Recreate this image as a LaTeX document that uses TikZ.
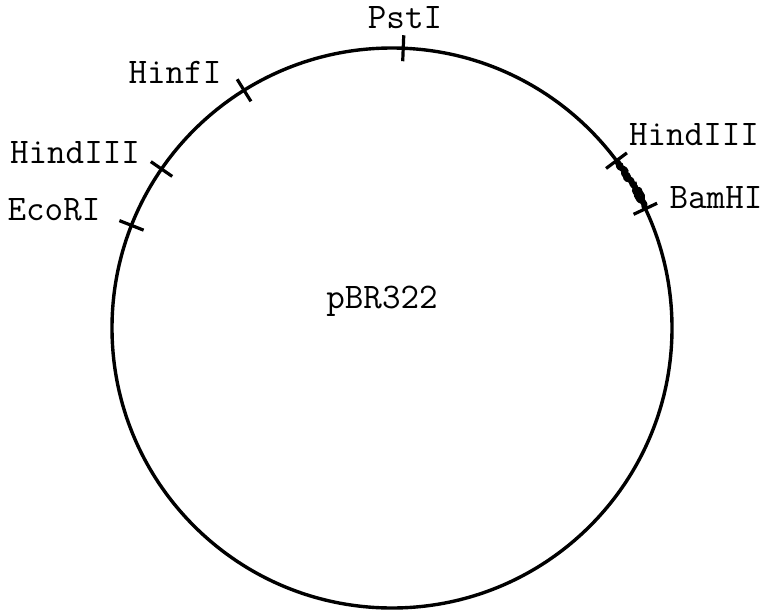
\documentclass[tikz,border=0pt]{standalone}
\usetikzlibrary{calc,decorations.pathmorphing}
\begin{document}
\begin{tikzpicture}[x=1pt,y=-1pt,
  ring/.style={line width=3.4pt},
  site/.style={line width=3.2pt},
  lbl/.style={font=\ttfamily\fontsize{36}{40}\selectfont,inner sep=0pt,anchor=base},
  insert/.style={line width=6pt,line join=round,line cap=round,decorate,
    decoration={random steps,segment length=3pt,amplitude=2pt}}]
\useasboundingbox (0,0) rectangle (768,613);
\coordinate (c) at (392,328);
\def\R{280}
% plasmid ring
\draw[ring] (c) circle (\R);
% restriction sites (visual angle in degrees, counter-clockwise from east)
\foreach \name/\ang in {pst/87.7, hinf/121.9, hindL/145.4, eco/158.5, hindR/36.7, bam/25.2}{
  \coordinate (\name-in)  at ($(c)+(-\ang:\R-13)$);
  \coordinate (\name-out) at ($(c)+(-\ang:\R+13)$);
  \draw[site] (\name-in) -- (\name-out);
}
% inserted fragment between HindIII and BamHI
\coordinate (ins-a) at ($(c)+(-36.3:\R)$);
\coordinate (ins-b) at ($(c)+(-25.6:\R)$);
\draw[insert] (ins-a) arc[start angle=-36.3,end angle=-25.6,radius=\R];
\draw[insert,line width=4pt,decoration={random steps,segment length=2pt,amplitude=2.5pt}]
  ($(c)+(-35.5:\R+1.5)$) arc[start angle=-35.5,end angle=-26.5,radius=\R+1.5];
% labels
\node[lbl] (lpst)   at (405,28)  {PstI};
\node[lbl] (lhinf)  at (175,83)  {HinfI};
\node[lbl] (lhindL) at (75,163)  {HindIII};
\node[lbl] (leco)   at (54,220)  {EcoRI};
\node[lbl] (lhindR) at (694,145) {HindIII};
\node[lbl] (lbam)   at (716,208) {BamHI};
\node[lbl] (lname)  at (382,308) {pBR322};
\end{tikzpicture}
\end{document}
